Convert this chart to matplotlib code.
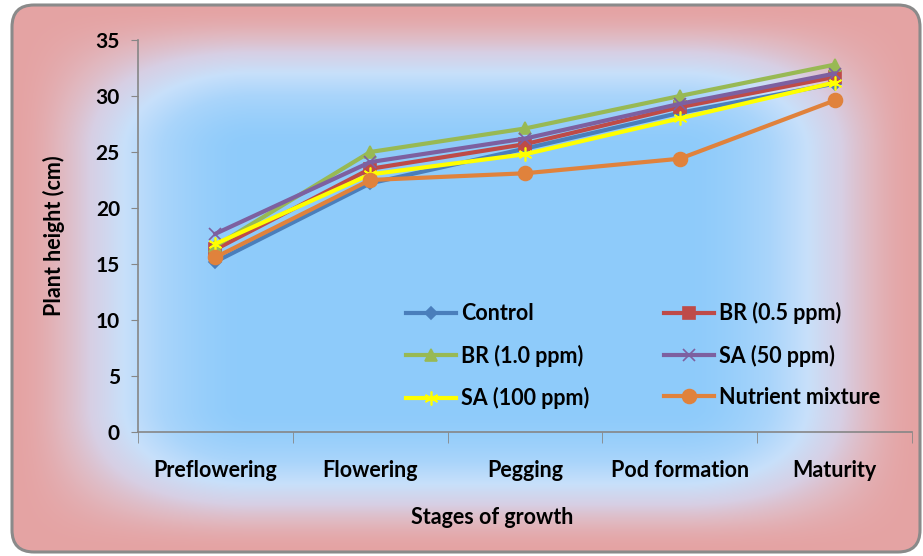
import numpy as np
import matplotlib.pyplot as plt
from matplotlib.patches import FancyBboxPatch

# Plant height data (cm) by stage of growth
stages = ['Preflowering', 'Flowering', 'Pegging', 'Pod formation', 'Maturity']
control = [15.2, 22.2, 25.3, 28.5, 31.1]
br_05 = [16.3, 23.5, 25.7, 29.0, 31.7]
br_10 = [16.6, 25.0, 27.1, 30.0, 32.8]
sa_50 = [17.7, 24.1, 26.2, 29.3, 32.0]
sa_100 = [16.8, 23.0, 24.8, 28.0, 31.2]
nutrient = [15.6, 22.5, 23.1, 24.4, 29.6]

plt.rcParams['font.family'] = ['Lato', 'DejaVu Sans']

W, H = 923, 556
fig = plt.figure(figsize=(W / 100, H / 100), dpi=100)

# background: pink frame fading to a blue centre
bg = fig.add_axes([0, 0, 1, 1])
bg.set_xlim(0, W)
bg.set_ylim(H, 0)
bg.axis('off')
x0, x1, y0, y1 = 12, 920, 5, 552
xx, yy = np.meshgrid(np.arange(W) + 0.5, np.arange(H) + 0.5)
tx = np.clip(np.minimum(xx - x0, x1 - xx) / 240.0, 0, 1)
ty = np.clip(np.minimum(yy - y0, y1 - yy) / 145.0, 0, 1)
sm = lambda v: v * v * (3 - 2 * v)
t = sm(tx) * sm(ty)
stops_t = [0.0, 0.1, 0.25, 0.45, 0.68, 1.0]
stops_c = np.array([[229, 163, 163], [225, 183, 190], [215, 207, 228],
                    [200, 224, 250], [170, 213, 250], [142, 203, 250]]) / 255.0
img = np.stack([np.interp(t, stops_t, stops_c[:, k]) for k in range(3)], axis=-1)
im = bg.imshow(img, extent=(0, W, H, 0), interpolation='bilinear')
frame = FancyBboxPatch((x0, y0), x1 - x0, y1 - y0,
                       boxstyle='round,pad=0,rounding_size=22',
                       transform=bg.transData, facecolor='none',
                       edgecolor='#8a8a8a', linewidth=2.2)
bg.add_patch(frame)
im.set_clip_path(frame)

ax = fig.add_axes([138 / W, 1 - 432 / H, (912 - 138) / W, (432 - 40) / H])
ax.patch.set_alpha(0)

x = np.arange(len(stages))
series = [
    ('Control', control, '#4A7EBB', 'D', 6),
    ('BR (0.5 ppm)', br_05, '#BE4B48', 's', 8),
    ('BR (1.0 ppm)', br_10, '#98B954', '^', 9),
    ('SA (50 ppm)', sa_50, '#7D60A0', 'x', 8),
    ('SA (100 ppm)', sa_100, '#FFFF00', (6, 2, 0), 10),
    ('Nutrient mixture', nutrient, '#E0823C', 'o', 10),
]
handles = []
for label, vals, col, mk, ms in series:
    h, = ax.plot(x, vals, color=col, lw=3, marker=mk, markersize=ms,
                 markerfacecolor=col, markeredgecolor=col, markeredgewidth=1.2,
                 label=label)
    handles.append(h)

ax.set_xlim(-0.5, len(stages) - 0.5)
ax.set_ylim(0, 35)
ax.set_yticks(range(0, 36, 5))
ax.set_xticks(x)
ax.set_xticklabels(stages)
ax.set_xticks(np.arange(len(stages) + 1) - 0.5, minor=True)
ax.tick_params(axis='x', which='major', length=0, pad=20, labelsize=15.5)
ax.tick_params(axis='x', which='minor', length=8, color='#868686', direction='out')
ax.tick_params(axis='y', length=5, color='#868686', labelsize=15, pad=8)
for s in ['top', 'right']:
    ax.spines[s].set_visible(False)
for s in ['left', 'bottom']:
    ax.spines[s].set_color('#868686')
    ax.spines[s].set_linewidth(1.2)
for lab in ax.get_xticklabels() + ax.get_yticklabels():
    lab.set_fontweight('bold')

ax.set_ylabel('Plant height (cm)', fontsize=15.5, fontweight='bold', labelpad=22)
fig.text(492 / W, 1 - 517 / H, 'Stages of growth', ha='center', va='center',
         fontsize=15.5, fontweight='bold')

# legend filled row by row: matplotlib fills columns, so reorder
order = [0, 2, 4, 1, 3, 5]
ax.legend([handles[i] for i in order], [series[i][0] for i in order],
          loc='upper left', bbox_to_anchor=((406 - 138) / 774, (432 - 302) / 392),
          ncol=2, frameon=False, handlelength=2.3, borderpad=0, borderaxespad=0,
          columnspacing=3.5, labelspacing=0.95, handletextpad=0.25,
          prop={'weight': 'bold', 'size': 15.5})

fig.savefig('out.png', dpi=100)
